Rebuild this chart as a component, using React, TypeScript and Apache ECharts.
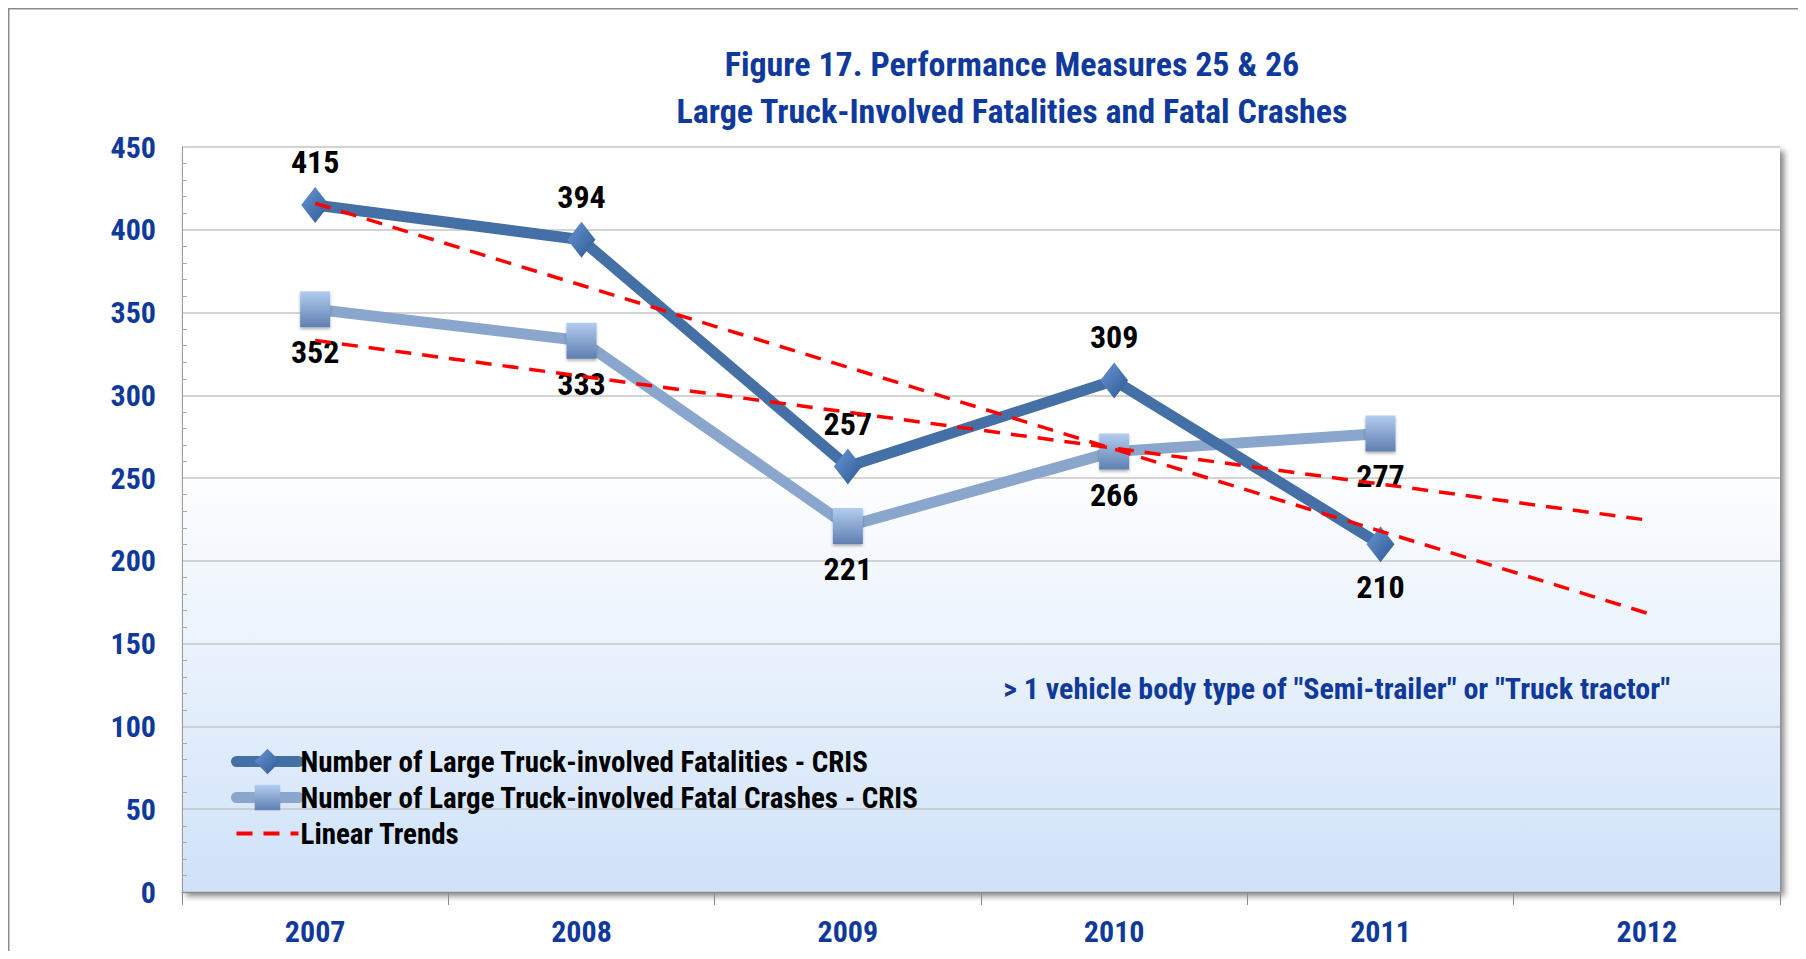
import React, { useEffect, useRef } from "react";
import * as echarts from "echarts";

const years = ["2007", "2008", "2009", "2010", "2011", "2012"];
const fatalities = [415, 394, 257, 309, 210, null];
const crashes = [352, 333, 221, 266, 277, null];
const fatalTrend = [416, 366.5, 317, 267.5, 218, 168.5];
const crashTrend = [333.2, 311.5, 289.8, 268.1, 246.4, 224.7];
const fatalLabelPos = ["top", "top", "top", "top", "bottom", "top"];
const crashLabelPos = ["bottom", "bottom", "bottom", "bottom", "bottom", "bottom"];

const titleLines = [
  "Figure 17. Performance Measures 25 & 26",
  "Large Truck-Involved Fatalities and Fatal Crashes",
];
const noteText = '> 1 vehicle body type of "Semi-trailer" or "Truck tractor"';
const seriesNames = [
  "Number of Large Truck-involved Fatalities - CRIS",
  "Number of Large Truck-involved Fatal Crashes - CRIS",
  "Linear Trends",
];

const FONT = "'Roboto Condensed', 'Liberation Sans Narrow', 'Arial Narrow', sans-serif";
const BLUE_TEXT = "#10399c";

export default function App() {
  const ref = useRef<HTMLDivElement>(null);
  useEffect(() => {
    if (!ref.current) return;
    const chart = echarts.init(ref.current, null, { renderer: "svg" });
    const diamondColor = new echarts.graphic.LinearGradient(0, 0, 1, 1, [
      { offset: 0, color: "#6a97d4" },
      { offset: 1, color: "#2c5893" },
    ]);
    const squareColor = new echarts.graphic.LinearGradient(0, 0, 0, 1, [
      { offset: 0, color: "#b3cdf0" },
      { offset: 1, color: "#5e7fb0" },
    ]);
    const mkData = (vals: (number | null)[], pos: string[]) =>
      vals.map((v, i) => ({ value: v, label: { position: pos[i] } }));
    const labelStyle = {
      show: true,
      distance: 9,
      fontFamily: FONT,
      fontWeight: "bold",
      fontSize: 32,
      color: "#000",
    };
    chart.setOption({
      animation: false,
      backgroundColor: "#ffffff",
      title: {
        text: titleLines.join("\n"),
        left: 1007,
        textAlign: "center",
        top: 35,
        textStyle: {
          fontFamily: FONT,
          fontWeight: "bold",
          fontSize: 34,
          lineHeight: 47,
          color: BLUE_TEXT,
        },
      },
      graphic: [
        {
          type: "rect",
          shape: { x: 8, y: 8, width: 1810, height: 947 },
          style: { fill: "none", stroke: "#8c8c8c", lineWidth: 3 },
          silent: true,
          z: 100,
        },
        {
          type: "text",
          right: 136,
          top: 673,
          style: {
            text: noteText,
            font: `bold 30px ${FONT}`,
            fill: BLUE_TEXT,
          },
          z: 50,
        },
      ],
      grid: {
        left: 182,
        right: 26,
        top: 147,
        bottom: 67,
        show: true,
        borderWidth: 0,
        backgroundColor: new echarts.graphic.LinearGradient(0, 0, 0, 1, [
          { offset: 0, color: "#ffffff" },
          { offset: 0.42, color: "#ffffff" },
          { offset: 1, color: "#cfe2f9" },
        ]),
        shadowColor: "rgba(0,0,0,0.5)",
        shadowBlur: 6,
        shadowOffsetX: 4,
        shadowOffsetY: 4,
      },
      legend: {
        orient: "vertical",
        left: 226,
        top: 742,
        itemWidth: 62,
        itemHeight: 32,
        itemGap: 7,
        itemStyle: { borderWidth: 0 },
        textStyle: {
          fontFamily: FONT,
          fontWeight: "bold",
          fontSize: 29,
          color: "#000",
          padding: [0, 0, 0, -3],
        },
        data: [
          { name: seriesNames[0], lineStyle: { width: 11, cap: "round" } },
          { name: seriesNames[1], lineStyle: { width: 11, cap: "round" } },
          {
            name: seriesNames[2],
            itemStyle: { opacity: 0 },
            lineStyle: { width: 4, type: [16, 11] },
          },
        ],
      },
      xAxis: {
        type: "category",
        data: years,
        boundaryGap: true,
        axisLine: { show: true, lineStyle: { color: "#8a8a8a", width: 1 } },
        axisTick: { show: true, interval: 0, length: 13, lineStyle: { color: "#8a8a8a" } },
        axisLabel: {
          margin: 24,
          fontFamily: FONT,
          fontWeight: "bold",
          fontSize: 30,
          color: BLUE_TEXT,
        },
        splitLine: { show: false },
      },
      yAxis: {
        type: "value",
        min: 0,
        max: 450,
        interval: 50,
        axisLine: { show: true, lineStyle: { color: "#9a9a9a" } },
        axisTick: { show: false, inside: true },
        minorTick: { show: true, splitNumber: 5, length: 5, lineStyle: { color: "#aaaaaa" } },
        axisLabel: {
          margin: 26,
          fontFamily: FONT,
          fontWeight: "bold",
          fontSize: 30,
          color: BLUE_TEXT,
        },
        splitLine: { show: true, lineStyle: { color: "#c6c6c6", width: 1.5 } },
      },
      series: [
        {
          name: seriesNames[0],
          type: "line",
          data: mkData(fatalities, fatalLabelPos),
          symbol: "diamond",
          symbolSize: [28, 36],
          z: 5,
          lineStyle: { color: "#4470a6", width: 11 },
          itemStyle: { color: diamondColor, borderWidth: 0 },
          label: labelStyle,
        },
        {
          name: seriesNames[1],
          type: "line",
          data: mkData(crashes, crashLabelPos),
          symbol: "rect",
          symbolSize: [30, 36],
          z: 4,
          lineStyle: { color: "#8ba6cc", width: 11 },
          itemStyle: {
            color: squareColor,
            borderWidth: 0,
            shadowColor: "rgba(0,0,0,0.3)",
            shadowBlur: 3,
            shadowOffsetY: 2,
          },
          label: labelStyle,
        },
        {
          name: seriesNames[2],
          type: "line",
          data: fatalTrend,
          symbol: "none",
          z: 6,
          lineStyle: { color: "#ff0000", width: 3.5, type: [16, 11] },
          itemStyle: { color: "#ff0000" },
        },
        {
          name: seriesNames[2],
          type: "line",
          data: crashTrend,
          symbol: "none",
          z: 6,
          lineStyle: { color: "#ff0000", width: 3.5, type: [16, 11] },
          itemStyle: { color: "#ff0000" },
        },
      ],
    });
    return () => chart.dispose();
  }, []);
  return <div ref={ref} style={{ width: 1806, height: 959, margin: -8 }} />;
}
